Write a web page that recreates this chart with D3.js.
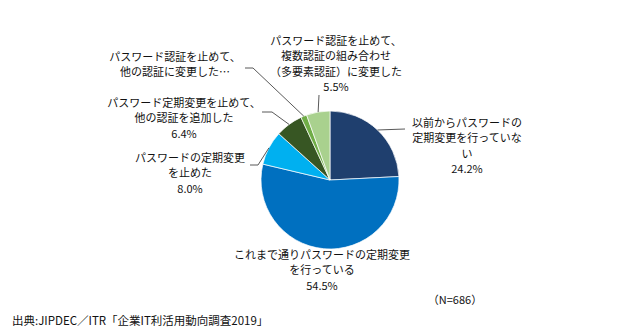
<!DOCTYPE html>
<html><head><meta charset="utf-8">
<script src="https://cdn.jsdelivr.net/npm/d3@7"></script>
<style>body{margin:0;background:#fff}svg{display:block}</style>
</head><body>
<svg id="c" width="637" height="335"></svg>
<script>
// ---- data ----
const categories = [
  "以前からパスワードの定期変更を行っていない",
  "これまで通りパスワードの定期変更を行っている",
  "パスワードの定期変更を止めた",
  "パスワード定期変更を止めて、他の認証を追加した",
  "パスワード認証を止めて、他の認証に変更した…",
  "パスワード認証を止めて、複数認証の組み合わせ（多要素認証）に変更した"
];
const values = [24.2, 54.5, 8.0, 6.4, 1.4, 5.5];
const labelLines = [
  ["以前からパスワードの","定期変更を行っていな","い"],
  ["これまで通りパスワードの定期変更","を行っている"],
  ["パスワードの定期変更","を止めた"],
  ["パスワード定期変更を止めて、","他の認証を追加した"],
  ["パスワード認証を止めて、","他の認証に変更した…"],
  ["パスワード認証を止めて、","複数認証の組み合わせ","（多要素認証）に変更した"]
];
const showPct = [true, true, true, true, false, true];
const sourceText = "出典:JIPDEC／ITR「企業IT利活用動向調査2019」";
const nText = "（N=686）";

// ---- layout ----
const colors = ["#1f3f6e","#0070c0","#00b0f0","#375623","#70ad47","#a9d18e"];
const cx = 330, cy = 180, R = 69;
const labelPos = [ // center x, center y of first line
  [467,123],[322,255],[190,158],[184,103],[175,57],[336,41]
];
const leaderPts = [ // elbow / end points for leader lines (null = none)
  [[405,129]], null, [[258,165],[250,165]], [[272,112],[262,112]], [[253,68],[245,68]], [[319,95]]
];
const lh = 15.3;
const font = "'Noto Sans CJK JP', sans-serif";

const svg = d3.select("#c");
const g = svg.append("g").attr("transform",`translate(${cx},${cy})`);
const pie = d3.pie().sort(null).value(d=>d).startAngle(0).endAngle(2*Math.PI);
const arcs = pie(values);
const arc = d3.arc().innerRadius(0).outerRadius(R);
g.selectAll("path.s").data(arcs).join("path")
  .attr("d",arc).attr("fill",(d,i)=>colors[i])
  .attr("stroke","#fff").attr("stroke-width",0.7);

// leader lines
arcs.forEach((a,i)=>{
  if(!leaderPts[i]) return;
  const m = (a.startAngle+a.endAngle)/2;
  const p0 = [cx + R*Math.sin(m), cy - R*Math.cos(m)];
  const pts = [p0].concat(leaderPts[i]);
  svg.append("path").attr("d",d3.line()(pts))
    .attr("fill","none").attr("stroke","#595959").attr("stroke-width",1);
});

// labels
arcs.forEach((a,i)=>{
  const lines = labelLines[i].slice();
  if(showPct[i]) lines.push(d3.format(".1f")(values[i])+"%");
  const t = svg.append("text").attr("font-family",font).attr("font-size",11)
    .attr("fill","#111").attr("text-anchor","middle");
  lines.forEach((ln,k)=>{
    t.append("tspan").attr("x",labelPos[i][0])
      .attr("y",labelPos[i][1]+k*lh).attr("dy","0.36em").text(ln);
  });
});

svg.append("text").attr("x",12).attr("y",321).attr("dy","0.36em")
  .attr("font-family",font).attr("font-size",11.5).attr("fill","#111").text(sourceText);
svg.append("text").attr("x",455).attr("y",300).attr("dy","0.36em").attr("text-anchor","middle")
  .attr("font-family",font).attr("font-size",11).attr("fill","#111").text(nText);
</script>
</body></html>
